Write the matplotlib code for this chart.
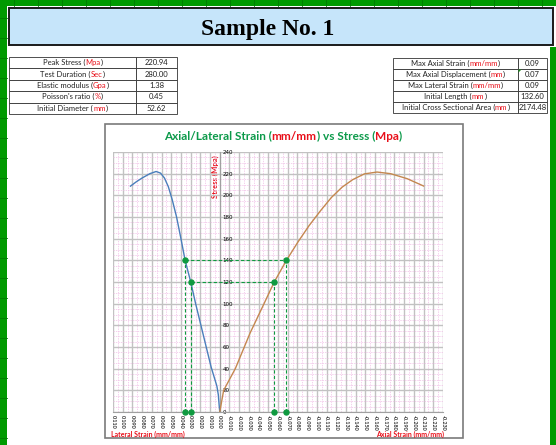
import numpy as np
import matplotlib.pyplot as plt
from matplotlib.patches import Rectangle, Polygon
from matplotlib.offsetbox import TextArea, HPacker, AnnotationBbox

# lateral strain (positive side of the axis) vs stress
lateral_strain = [0.0, 0.0006, 0.0015, 0.003, 0.0089, 0.0175, 0.025, 0.0299, 0.0357, 0.040,
                  0.0445, 0.049, 0.053, 0.057, 0.061, 0.0656, 0.072, 0.080, 0.086, 0.092]
lateral_stress = [0, 6, 16, 24, 41.5, 73, 100.5, 120, 140, 160,
                  180, 196, 208, 216, 220.5, 222, 220, 216, 212.5, 208.5]

# axial strain (negative side of the axis) vs stress
axial_strain = [0.0, -0.004, -0.016, -0.0313, -0.0456, -0.0561, -0.0687, -0.0806, -0.092,
                -0.104, -0.115, -0.126, -0.137, -0.149, -0.162, -0.176, -0.193, -0.21]
axial_stress = [0, 20, 40, 73, 100, 120, 140, 157, 172,
                186, 198, 207.5, 214.5, 219.8, 221.5, 220, 215.4, 208.6]

# points used for the modulus / poisson construction
marker_stress = [140, 120]
marker_lateral = [0.0357, 0.0299]
marker_axial = [-0.0687, -0.0561]

x_ticks = np.round(np.arange(0.11, -0.2301, -0.01), 3)
y_ticks = list(range(0, 241, 20))

left_labels = [("Peak Stress (", "Mpa", ")"), ("Test Duration (", "Sec", ")"),
               ("Elastic modulus (", "Gpa", ")"), ("Poisson's ratio (", "%", ")"),
               ("Initial Diameter (", "mm", ")")]
left_values = ["220.94", "280.00", "1.38", "0.45", "52.62"]
right_labels = [("Max Axial Strain (", "mm/mm", ")"), ("Max Axial Displacement (", "mm", ")"),
                ("Max Lateral Strain (", "mm/mm", ")"), ("Initial Length (", "mm", ")"),
                ("Initial Cross Sectional Area (", "mm", ")")]
right_values = ["0.09", "0.07", "0.09", "132.60", "2174.48"]

FONT = "Lato"
RED = "#e8101a"
GREEN_T = "#0c9a4a"


def rich(ax, x, y, parts, size, weight="normal", align=(0.5, 0.5)):
    areas = [TextArea(t, textprops=dict(color=c, fontsize=size, fontweight=weight, family=FONT))
             for t, c in parts]
    box = HPacker(children=areas, pad=0, sep=0, align="baseline")
    ab = AnnotationBbox(box, (x, y), xycoords="data", box_alignment=align,
                        frameon=False, pad=0, annotation_clip=False)
    ax.add_artist(ab)


fig = plt.figure(figsize=(5.56, 4.45), dpi=100)
fig.patch.set_facecolor("white")

# sheet background in pixel coordinates
bg = fig.add_axes([0, 0, 1, 1], zorder=0)
bg.set_xlim(0, 556)
bg.set_ylim(445, 0)
bg.axis("off")

# green sheet border
bg.add_patch(Rectangle((0, 0), 556, 6, color="#009a00", lw=0))
bg.add_patch(Rectangle((0, 0), 7, 445, color="#009a00", lw=0))
bg.add_patch(Rectangle((550, 47), 6, 398, color="#009a00", lw=0))
for gx in range(14, 556, 24):
    bg.plot([gx, gx], [0, 6], color="#007a00", lw=0.6)
for gy in range(18, 445, 20):
    bg.plot([0, 7], [gy, gy], color="#007a00", lw=0.6)

# title box
bg.add_patch(Rectangle((9, 8), 544, 37, facecolor="#c6e5fa", edgecolor="#1a1a1a", lw=1.4))
bg.text(268, 30, "Sample No. 1", ha="center", va="center", fontsize=17,
        fontweight="bold", family="Liberation Serif", color="black")

# parameter tables
def draw_table(x0, xdiv, x1, y0, y1, labels, values):
    h = (y1 - y0) / len(labels)
    for i, (lab, val) in enumerate(zip(labels, values)):
        yy = y0 + i * h
        bg.add_patch(Rectangle((x0, yy), xdiv - x0, h, facecolor="white", edgecolor="#333333", lw=0.6))
        bg.add_patch(Rectangle((xdiv, yy), x1 - xdiv, h, facecolor="white", edgecolor="#333333", lw=0.6))
        rich(bg, (x0 + xdiv) / 2, yy + h / 2,
             [(lab[0], "#222222"), (lab[1], RED), (lab[2], "#222222")], 5.5)
        bg.text((xdiv + x1) / 2, yy + h / 2, val, ha="center", va="center",
                fontsize=5.5, family=FONT, color="#222222")

draw_table(9, 136, 177, 57, 114, left_labels, left_values)
draw_table(393, 518, 547, 58, 113, right_labels, right_values)
bg.add_patch(Polygon([[518.5, 69.5], [521.5, 69.5], [518.5, 72.5]], color="#1a8a1a", lw=0))

# chart frame
bg.add_patch(Rectangle((105, 124), 358, 314, facecolor="white", edgecolor="#7a7a7a", lw=1.2))
rich(bg, 283, 136, [("Axial/Lateral Strain (", GREEN_T), ("mm/mm", RED),
                    (") vs Stress (", GREEN_T), ("Mpa", RED), (")", GREEN_T)], 8.5, "bold")
bg.text(215, 177, "Stress (Mpa)", rotation=90, ha="center", va="center", fontsize=5.6,
        fontweight="bold", family=FONT, color=RED)
bg.text(111, 434, "Lateral Strain (mm/mm)", ha="left", va="center", fontsize=5,
        fontweight="bold", family=FONT, color=RED)
bg.text(444, 434, "Axial Strain (mm/mm)", ha="right", va="center", fontsize=5,
        fontweight="bold", family=FONT, color=RED)

# plot area
ax = fig.add_axes([113 / 556, (445 - 412) / 445, (443 - 113) / 556, (412 - 152) / 445], zorder=2)
ax.patch.set_alpha(0)
ax.set_xlim(0.11, -0.23)
ax.set_ylim(0, 240)

ax.set_xticks(x_ticks)
ax.set_xticklabels(["%.3f" % (0.0 if abs(v) < 1e-9 else v) for v in x_ticks],
                   rotation=270, fontsize=3.9, family=FONT, fontweight="bold", color="#333333")
ax.set_xticks(np.arange(0.11, -0.2301, -0.005), minor=True)
ax.yaxis.tick_right()
ax.set_yticks(y_ticks)
ax.set_yticklabels([str(v) for v in y_ticks])
ax.set_yticks(range(0, 241, 5), minor=True)
for t in ax.yaxis.get_major_ticks():
    for lbl in (t.label1, t.label2):
        lbl.set_fontsize(4.0)
        lbl.set_fontweight("bold")
        lbl.set_family(FONT)
        lbl.set_color("#333333")

ax.spines["right"].set_position(("data", 0))
ax.spines["right"].set_color("#a0a0a0")
ax.spines["bottom"].set_color("#a0a0a0")
ax.spines["top"].set_visible(False)
ax.spines["left"].set_visible(False)
ax.tick_params(which="both", length=0)
ax.tick_params(axis="x", pad=2)
ax.tick_params(axis="y", pad=2, labelsize=4.0)

ax.grid(which="minor", color="#f0bfe6", lw=0.5, ls=(0, (2, 1.5)))
ax.grid(which="major", color="#c2c2c2", lw=1.0)
ax.set_axisbelow(True)

ax.plot(lateral_strain, lateral_stress, color="#4a7ebb", lw=1.0, zorder=3)
ax.plot(axial_strain, axial_stress, color="#c4874f", lw=1.0, zorder=3)

gc = "#0f9a40"
for s, xl, xa in zip(marker_stress, marker_lateral, marker_axial):
    ax.plot([xl, xa], [s, s], color=gc, lw=0.8, ls=(0, (3, 2)), zorder=4)
    ax.plot([xl, xl], [0, s], color=gc, lw=0.8, ls=(0, (3, 2)), zorder=4)
    ax.plot([xa, xa], [0, s], color=gc, lw=0.8, ls=(0, (3, 2)), zorder=4)
    ax.plot([xl, xa, xl, xa], [s, s, 0, 0], "o", color=gc, ms=3.6, zorder=5, clip_on=False)

fig.savefig("out.png", dpi=100)
